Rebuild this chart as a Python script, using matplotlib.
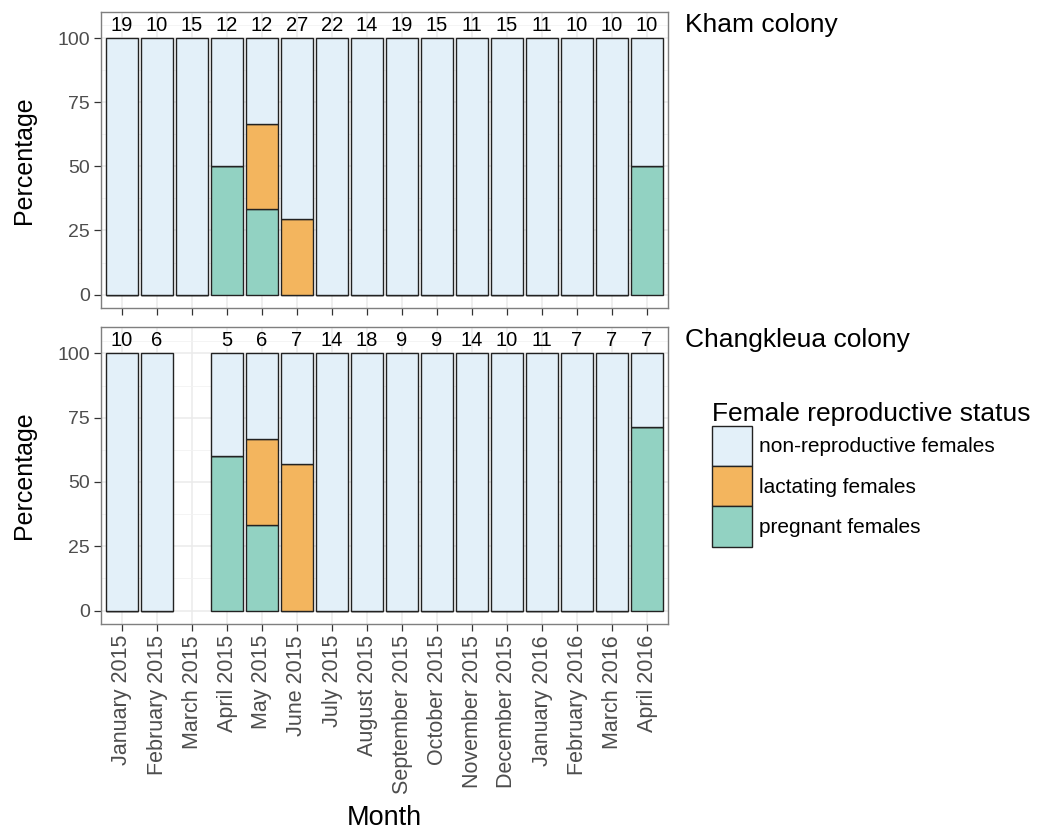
import numpy as np
import matplotlib
matplotlib.use("Agg")
import matplotlib.pyplot as plt
from matplotlib.patches import Patch

plt.rcParams['font.family'] = ['Liberation Sans', 'DejaVu Sans']

months = ["January 2015", "February 2015", "March 2015", "April 2015", "May 2015",
          "June 2015", "July 2015", "August 2015", "September 2015", "October 2015",
          "November 2015", "December 2015", "January 2016", "February 2016",
          "March 2016", "April 2016"]

kham_n = [19, 10, 15, 12, 12, 27, 22, 14, 19, 15, 11, 15, 11, 10, 10, 10]
kham_pregnant = [0, 0, 0, 50, 33.3, 0, 0, 0, 0, 0, 0, 0, 0, 0, 0, 50]
kham_lactating = [0, 0, 0, 0, 33.3, 29.6, 0, 0, 0, 0, 0, 0, 0, 0, 0, 0]
kham_nonrepro = [100, 100, 100, 50, 33.4, 70.4, 100, 100, 100, 100, 100, 100, 100, 100, 100, 50]

chang_n = [10, 6, None, 5, 6, 7, 14, 18, 9, 9, 14, 10, 11, 7, 7, 7]
chang_pregnant = [0, 0, np.nan, 60, 33.3, 0, 0, 0, 0, 0, 0, 0, 0, 0, 0, 71.4]
chang_lactating = [0, 0, np.nan, 0, 33.3, 57.1, 0, 0, 0, 0, 0, 0, 0, 0, 0, 0]
chang_nonrepro = [100, 100, np.nan, 40, 33.4, 42.9, 100, 100, 100, 100, 100, 100, 100, 100, 100, 28.6]

panels = [("Kham colony", kham_n, kham_pregnant, kham_lactating, kham_nonrepro),
          ("Changkleua colony", chang_n, chang_pregnant, chang_lactating, chang_nonrepro)]

status_labels = ["non-reproductive females", "lactating females", "pregnant females"]
c_non = "#E3F0F9"
c_lac = "#F3B55E"
c_preg = "#92D2C2"
edge = "#222222"

fig = plt.figure(figsize=(10.44, 8.36), dpi=100)
W, H = 1044, 836
ax_left, ax_right = 101, 668
tops = [(12, 308), (327, 624)]

x = np.arange(len(months))
axes = []
for i, (name, n, preg, lac, non) in enumerate(panels):
    t, b = tops[i]
    ax = fig.add_axes([ax_left / W, 1 - b / H, (ax_right - ax_left) / W, (b - t) / H])
    axes.append(ax)
    preg = np.array(preg, dtype=float)
    lac = np.array(lac, dtype=float)
    non = np.array(non, dtype=float)
    ax.bar(x, preg, width=0.9, color=c_preg, edgecolor=edge, linewidth=1.0, zorder=3)
    ax.bar(x, lac, bottom=preg, width=0.9, color=c_lac, edgecolor=edge, linewidth=1.0, zorder=3)
    ax.bar(x, non, bottom=preg + lac, width=0.9, color=c_non, edgecolor=edge, linewidth=1.0, zorder=3)
    for xi, ni in zip(x, n):
        if ni is not None:
            ax.text(xi, 105, str(ni), ha='center', va='center', fontsize=14.5, color='black', zorder=4)
    ax.set_xlim(-0.6, len(months) - 0.4)
    ax.set_ylim(-5.25, 110.25)
    ax.set_yticks([0, 25, 50, 75, 100])
    ax.set_yticks([12.5, 37.5, 62.5, 87.5, 105], minor=True)
    ax.set_xticks(x)
    ax.grid(True, which='major', color='#EBEBEB', linewidth=1.1, zorder=0)
    ax.grid(True, which='minor', axis='y', color='#F2F2F2', linewidth=0.6, zorder=0)
    ax.set_axisbelow(True)
    ax.tick_params(axis='both', which='major', direction='out', length=5, width=0.9,
                   color='#333333', labelcolor='#4D4D4D', pad=3)
    ax.tick_params(axis='y', which='major', labelsize=14)
    ax.tick_params(axis='x', which='major', labelsize=15.5)
    ax.tick_params(axis='y', which='minor', length=0)
    for s in ax.spines.values():
        s.set_color('#7F7F7F')
        s.set_linewidth(1.0)
    ax.set_ylabel("Percentage", fontsize=18, color='black', labelpad=15)
    ax.text(1.03, 1.0 - 0.005, name, transform=ax.transAxes, ha='left', va='top',
            fontsize=19, color='black')
    if i == 0:
        ax.set_xticklabels([])
    else:
        ax.set_xticklabels(months, rotation=90, ha='center', va='top')

fig.text((ax_left + ax_right) / 2 / W, 1 - 818 / H, "Month", ha='center', va='center',
         fontsize=19.5, color='black')

handles = [Patch(facecolor=c_non, edgecolor=edge, linewidth=1.0),
           Patch(facecolor=c_lac, edgecolor=edge, linewidth=1.0),
           Patch(facecolor=c_preg, edgecolor=edge, linewidth=1.0)]
leg = fig.legend(handles, status_labels, loc='upper left', bbox_to_anchor=(693 / W, 1 - 383 / H),
                 frameon=False, fontsize=15, title="Female reproductive status",
                 title_fontsize=19, alignment='left', handlelength=1.95, handleheight=2.6,
                 labelspacing=0.0, handletextpad=0.3, borderpad=0.4)

fig.savefig("out.png", dpi=100)
